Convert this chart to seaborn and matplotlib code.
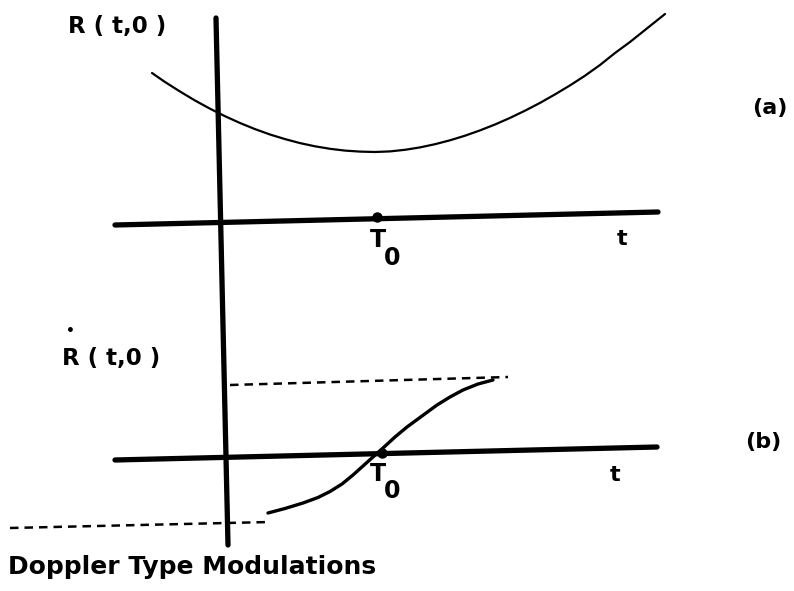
import matplotlib
matplotlib.use("Agg")
import matplotlib.pyplot as plt
import seaborn as sns
import pandas as pd

sns.set_theme(style="white")
plt.rcParams["font.family"] = ["DejaVu Sans"]

# Sheet coordinates: x to the right, y downward (page units)
# (a) range function R(t,0)
curve_a_x = [152, 165, 180, 195, 210, 225, 240, 255, 270, 285, 300, 315, 330, 345, 360, 375,
             390, 405, 420, 435, 450, 465, 480, 495, 510, 525, 540, 555, 570, 585, 600, 615,
             630, 645, 665]
curve_a_y = [73, 82, 91.5, 100.5, 108.7, 116.2, 123, 129.1, 134.5, 139.1, 143.1, 146.3, 148.8,
             150.6, 151.6, 152, 151.4, 149.8, 147.4, 144.2, 140.3, 135.7, 130.4, 124.5, 117.9,
             110.7, 102.9, 94.4, 85.4, 75.7, 65, 53, 42, 30, 14]

# (b) range rate R-dot(t,0)
curve_b_x = [268, 285, 303, 318, 330, 342, 353, 373, 383, 395, 407, 422, 437, 450, 463, 478, 493]
curve_b_y = [513, 508.5, 503, 497.5, 491.5, 484, 475, 457, 448, 437, 427, 416, 405, 397, 390, 384, 380]

# axes of the two sketches
time_axis_a_x = [115, 658]
time_axis_a_y = [225, 212]
time_axis_b_x = [115, 657]
time_axis_b_y = [460, 447]
ordinate_x = [216, 228]
ordinate_y = [18, 545]

# asymptotic levels of the range rate
upper_level_x = [230, 508]
upper_level_y = [385, 377]
lower_level_x = [10, 270]
lower_level_y = [528, 522]

# closest-approach time T0 on each time axis
t0_x = [377, 382]
t0_y = [217, 453]

fig = plt.figure(figsize=(7.94, 5.91), dpi=100)
ax = fig.add_axes([0, 0, 1, 1])

ink = "black"
thick = 3.8

for xs, ys in [(time_axis_a_x, time_axis_a_y), (time_axis_b_x, time_axis_b_y), (ordinate_x, ordinate_y)]:
    ax.plot(xs, ys, color=ink, lw=thick, solid_capstyle="round")

df_a = pd.DataFrame({"t": curve_a_x, "R": curve_a_y})
df_b = pd.DataFrame({"t": curve_b_x, "Rdot": curve_b_y})
sns.lineplot(data=df_a, x="t", y="R", sort=False, estimator=None, color=ink, lw=1.6, ax=ax)
sns.lineplot(data=df_b, x="t", y="Rdot", sort=False, estimator=None, color=ink, lw=2.4, ax=ax)

for xs, ys in [(upper_level_x, upper_level_y), (lower_level_x, lower_level_y)]:
    ax.plot(xs, ys, color=ink, lw=1.8, linestyle=(0, (3.4, 2.4)))

ax.plot(t0_x, t0_y, linestyle="none", marker="o", markersize=6.5, color=ink)

ax.set_xlim(0, 794)
ax.set_ylim(591, 0)
ax.axis("off")

lab = dict(color=ink, va="center", fontweight="bold")
ax.text(68, 26, "R ( t,0 )", fontsize=16.5, ha="left", **lab)
ax.text(62, 358, "R ( t,0 )", fontsize=16.5, ha="left", **lab)
ax.text(70, 331, "•", fontsize=10, ha="center", **lab)

for x, y in [(378, 240), (378, 474)]:
    ax.text(x, y, "T", fontsize=17, ha="center", **lab)
for x, y in [(392, 258), (392, 491)]:
    ax.text(x, y, "0", fontsize=17, ha="center", **lab)

ax.text(622, 239, "t", fontsize=16, ha="center", **lab)
ax.text(615, 475, "t", fontsize=16, ha="center", **lab)
ax.text(770, 108, "(a)", fontsize=16, ha="center", **lab)
ax.text(763, 442, "(b)", fontsize=16, ha="center", **lab)

ax.text(8, 567, "Doppler Type Modulations", fontsize=18, ha="left", **lab)

fig.savefig("out.png", dpi=100, facecolor="white")
